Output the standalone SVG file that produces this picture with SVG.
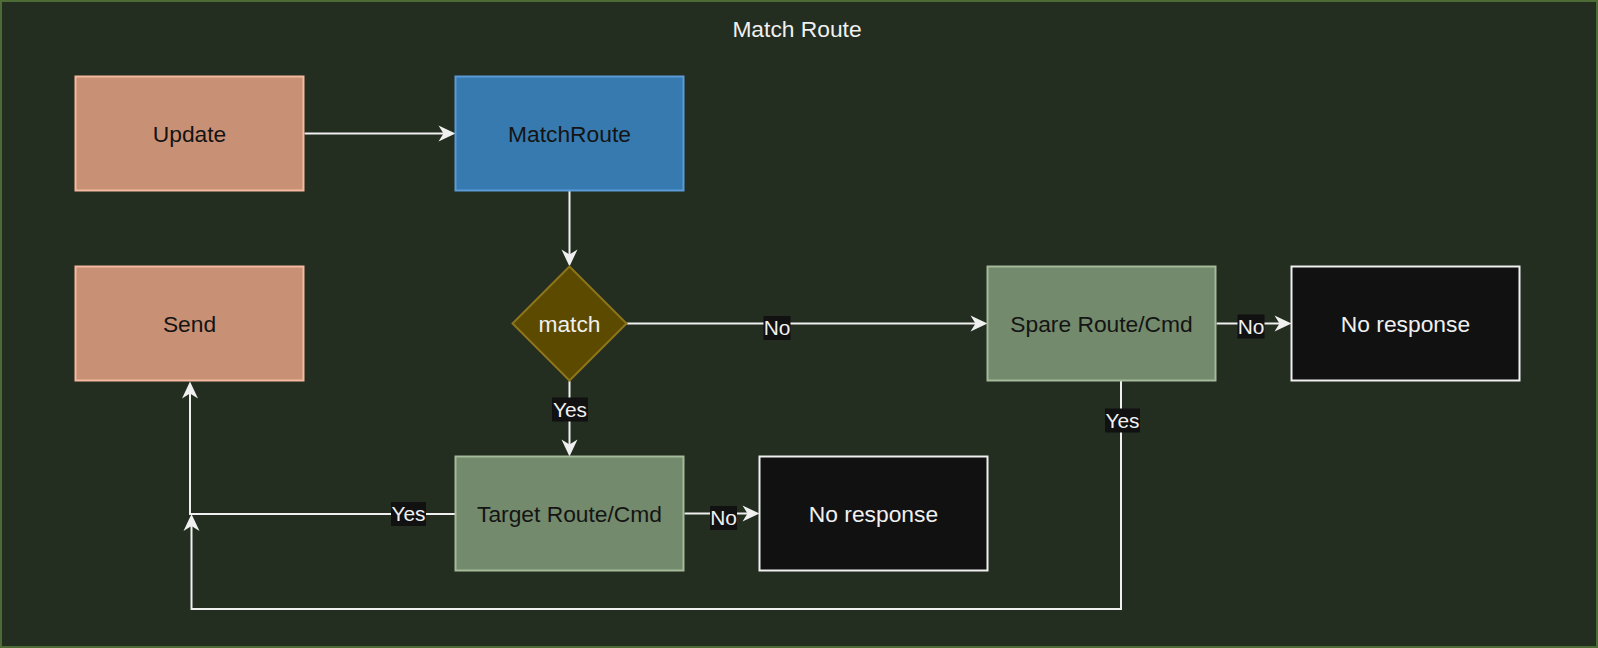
<svg xmlns="http://www.w3.org/2000/svg" width="1598" height="648" viewBox="0 0 1598 648">
<defs>
<style>
.box{stroke-width:2}
.t{font-family:"Liberation Sans",Arial,Helvetica,sans-serif;font-size:22.8px;text-anchor:middle}
.lbl{font-family:"Liberation Sans",Arial,Helvetica,sans-serif;font-size:20.9px;text-anchor:middle;fill:#f0f0f0}
.lblbg{fill:#111111}
.edge{fill:none;stroke:#f0f0f0;stroke-width:2;marker-end:url(#arr)}
.plain{fill:none;stroke:#f0f0f0;stroke-width:2}
.peach{fill:#c89176;stroke:#f5b9a0}
.blue{fill:#367ab0;stroke:#5b9bd8}
.sage{fill:#738a6c;stroke:#a4ba99}
.black{fill:#111111;stroke:#f0f0f0}
.dark{fill:#141414}
.light{fill:#f0f0f0}
</style>
<marker id="arr" viewBox="-18 -9 19 18" refX="-11" refY="0" markerWidth="19" markerHeight="18" markerUnits="userSpaceOnUse" orient="auto">
<path d="M0,0 L-17,-8 L-12,0 L-17,8 Z" fill="#f0f0f0"/>
</marker>
</defs>
<g id="container">
<rect x="1" y="1" width="1596" height="646" fill="#232d20" stroke="#4d6b35" stroke-width="2"/>
<text class="t light" x="797" y="36.5">Match Route</text>
</g>
<g id="connectors">
<path class="edge" d="M304.5,133.5 H444.5"/>
<path class="edge" d="M569.5,191 V255.5"/>
<path class="edge" d="M626.5,323.5 H976.5"/>
<path class="edge" d="M569.5,381 V445.5"/>
<path class="edge" d="M684.5,513.5 H748.5"/>
<path class="edge" d="M1216.5,323.5 H1280.5"/>
<path class="edge" d="M455.5,514 H190 V392.5"/>
<path class="edge" d="M1121,381 V609 H191.5 V525"/>
<g id="edge-labels">
<rect class="lblbg" x="763.5" y="316" width="27" height="24"/>
<text class="lbl" x="777" y="335">No</text>
<rect class="lblbg" x="552" y="397.5" width="36" height="24"/>
<text class="lbl" x="570" y="416.5">Yes</text>
<rect class="lblbg" x="710" y="506" width="27" height="24"/>
<text class="lbl" x="723.5" y="525">No</text>
<rect class="lblbg" x="391" y="502" width="35" height="24"/>
<text class="lbl" x="408.5" y="521">Yes</text>
<rect class="lblbg" x="1105" y="408.5" width="35" height="24"/>
<text class="lbl" x="1122.5" y="427.5">Yes</text>
<rect class="lblbg" x="1237.5" y="314.5" width="27" height="24"/>
<text class="lbl" x="1251" y="333.5">No</text>
</g>
</g>
<g id="update">
<rect class="box peach" x="75.5" y="76.5" width="228" height="114"/>
<text class="t dark" x="189.5" y="141.5">Update</text>
</g>
<g id="matchroute">
<rect class="box blue" x="455.5" y="76.5" width="228" height="114"/>
<text class="t dark" x="569.5" y="141.5">MatchRoute</text>
</g>
<g id="send">
<rect class="box peach" x="75.5" y="266.5" width="228" height="114"/>
<text class="t dark" x="189.5" y="331.5">Send</text>
</g>
<g id="match">
<path class="box" d="M569.5,266.5 L626.5,323.5 L569.5,380.5 L512.5,323.5 Z" fill="#5c4a00" stroke="#8c7419"/>
<text class="t light" x="569.5" y="331.5">match</text>
</g>
<g id="spare">
<rect class="box sage" x="987.5" y="266.5" width="228" height="114"/>
<text class="t dark" x="1101.5" y="331.5">Spare Route/Cmd</text>
</g>
<g id="noresponse-right">
<rect class="box black" x="1291.5" y="266.5" width="228" height="114"/>
<text class="t light" x="1405.5" y="331.5">No response</text>
</g>
<g id="target">
<rect class="box sage" x="455.5" y="456.5" width="228" height="114"/>
<text class="t dark" x="569.5" y="521.5">Target Route/Cmd</text>
</g>
<g id="noresponse-bottom">
<rect class="box black" x="759.5" y="456.5" width="228" height="114"/>
<text class="t light" x="873.5" y="521.5">No response</text>
</g>
</svg>
